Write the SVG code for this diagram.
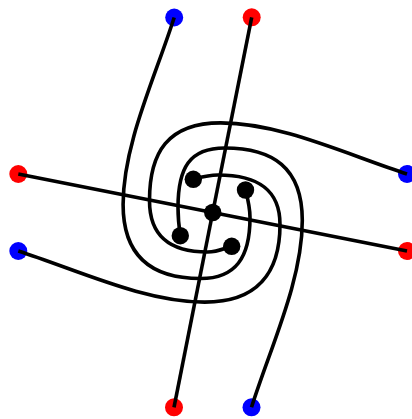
<svg xmlns="http://www.w3.org/2000/svg" width="412" height="419" viewBox="0 0 412 419">
<style>
.edge{fill:none;stroke:#000;stroke-width:3.6;stroke-linecap:butt;stroke-linejoin:round}
.red{fill:#ff0000}
.blue{fill:#0000ff}
.blk{fill:#000}
</style>
<rect width="412" height="419" fill="#fff"/>
<g id="outer-nodes">
<g id="n-top-blue"><circle class="blue" cx="174.2" cy="17.5" r="9"/></g>
<g id="n-top-red"><circle class="red" cx="251.7" cy="17.3" r="9"/></g>
<g id="n-right-blue"><circle class="blue" cx="407" cy="174" r="9"/></g>
<g id="n-right-red"><circle class="red" cx="407" cy="251" r="9"/></g>
<g id="n-bottom-blue"><circle class="blue" cx="251.5" cy="407.3" r="9"/></g>
<g id="n-bottom-red"><circle class="red" cx="174" cy="407.3" r="9"/></g>
<g id="n-left-red"><circle class="red" cx="18.3" cy="174" r="9"/></g>
<g id="n-left-blue"><circle class="blue" cx="18.3" cy="251" r="9"/></g>
</g>
<g id="connectors">
<line class="edge" x1="212.7" y1="212.5" x2="251.7" y2="17.3"/>
<line class="edge" x1="212.7" y1="212.5" x2="174" y2="407.3"/>
<line class="edge" x1="212.7" y1="212.5" x2="18.3" y2="174"/>
<line class="edge" x1="212.7" y1="212.5" x2="407" y2="251"/>
<path class="edge" d="M18.3 251 C78.7 270.5 144.7 302.1 204.7 302.1 C257.7 302.1 280 272.5 280 224.5 C280 189.5 257.7 175 217.7 175 C207.7 175 200 177.5 193.3 179.3"/>
<path class="edge" d="M174.2 17.5 C154.7 78.5 123.1 144.5 123.1 204.5 C123.1 257.5 152.7 278.5 200.7 278.5 C235.7 278.5 250 257.5 250 217.5 C250 207.5 248 199.5 245.5 190"/>
<path class="edge" d="M407 174 C346.7 154.5 280.7 122.9 220.7 122.9 C167.7 122.9 149.5 152.5 149.5 200.5 C149.5 235.5 169 252 207.7 252 C217.7 252 225 248 231.7 246.3"/>
<path class="edge" d="M251.5 407.3 C270.7 346.5 302.3 280.5 302.3 220.5 C302.3 167.5 272.7 148 224.7 148 C189.7 148 178 167.5 178 207.5 C178 217.5 179 227 180.3 235.7"/>
</g>
<g id="inner-nodes">
<g id="n-center"><circle class="blk" cx="212.7" cy="212.5" r="8.7"/></g>
<g id="n-inner-tl"><circle class="blk" cx="193.3" cy="179.3" r="8.7"/></g>
<g id="n-inner-tr"><circle class="blk" cx="245.5" cy="190" r="8.7"/></g>
<g id="n-inner-br"><circle class="blk" cx="231.7" cy="246.3" r="8.7"/></g>
<g id="n-inner-bl"><circle class="blk" cx="180.3" cy="235.7" r="8.7"/></g>
</g>
</svg>
